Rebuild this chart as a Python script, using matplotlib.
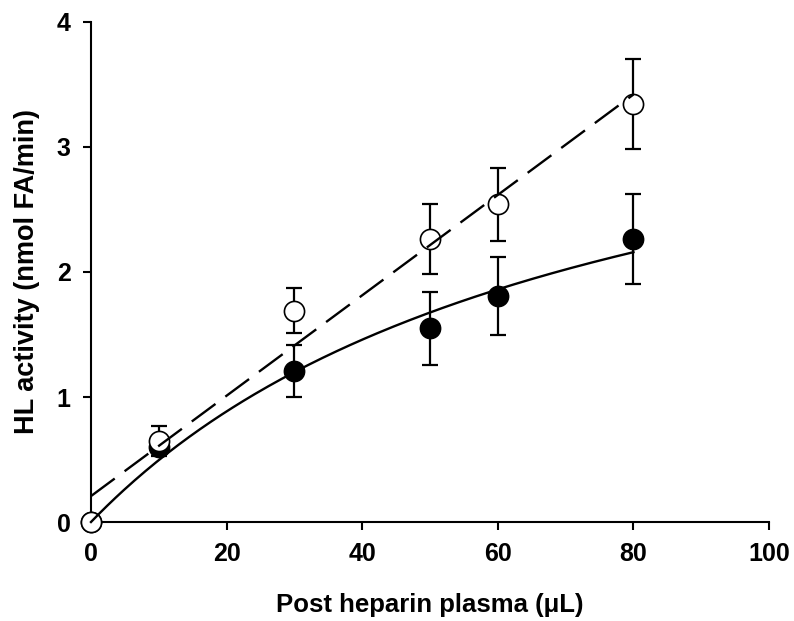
import numpy as np
import matplotlib
import matplotlib.pyplot as plt

matplotlib.use("Agg")

# Data
volume = [0, 10, 30, 50, 60, 80]

open_mean = [0.0, 0.65, 1.69, 2.26, 2.54, 3.34]
open_err = [0.0, 0.12, 0.18, 0.28, 0.29, 0.36]

filled_mean = [0.0, 0.60, 1.21, 1.55, 1.81, 2.26]
filled_err = [0.0, 0.05, 0.21, 0.29, 0.31, 0.36]

# Hyperbolic fit for the filled series (y = vmax * x / (km + x))
vmax = 4.15
km = 73.8

plt.rcParams["font.family"] = ["Liberation Sans", "DejaVu Sans"]
plt.rcParams["font.weight"] = "bold"

fig = plt.figure(figsize=(7.94, 6.21), dpi=100)
ax = fig.add_axes([0.1146, 0.1594, 0.854, 0.8052])

err_style = dict(fmt="none", ecolor="black", elinewidth=1.6, capsize=5.8,
                 capthick=1.6, zorder=2)
ax.errorbar(volume, filled_mean, yerr=filled_err, **err_style)
ax.errorbar(volume, open_mean, yerr=open_err, **err_style)

ax.plot(volume, filled_mean, "o", ms=14.5, mfc="black", mec="black",
        mew=1.2, zorder=3)
ax.plot(volume, open_mean, "o", ms=14.5, mfc="white", mec="black",
        mew=1.2, zorder=3)

# Fit lines
xs = np.linspace(0, 80, 200)
slope, intercept = np.polyfit(volume, open_mean, 1)
ax.plot(xs, slope * xs + intercept, color="black", lw=1.7,
        dashes=(12.5, 5.2), zorder=4)
ax.plot(xs, vmax * xs / (km + xs), color="black", lw=1.7, zorder=4)

ax.set_xlim(0, 100)
ax.set_ylim(0, 4)
ax.set_xticks([0, 20, 40, 60, 80, 100])
ax.set_yticks([0, 1, 2, 3, 4])

for side in ["top", "right"]:
    ax.spines[side].set_visible(False)
for side in ["left", "bottom"]:
    ax.spines[side].set_linewidth(1.5)
    ax.spines[side].set_zorder(1)

ax.tick_params(direction="out", length=6, width=1.5, pad=8.5,
               labelsize=18)
for lbl in ax.get_xticklabels() + ax.get_yticklabels():
    lbl.set_fontweight("bold")

ax.set_xlabel("Post heparin plasma (\u03bcL)", fontsize=18.5,
              fontweight="bold", labelpad=19)
ax.set_ylabel("HL activity (nmol FA/min)", fontsize=19.5,
              fontweight="bold", labelpad=12)

for art in ax.get_children():
    if hasattr(art, "set_clip_on"):
        art.set_clip_on(False)

fig.savefig("out.png", dpi=100)
